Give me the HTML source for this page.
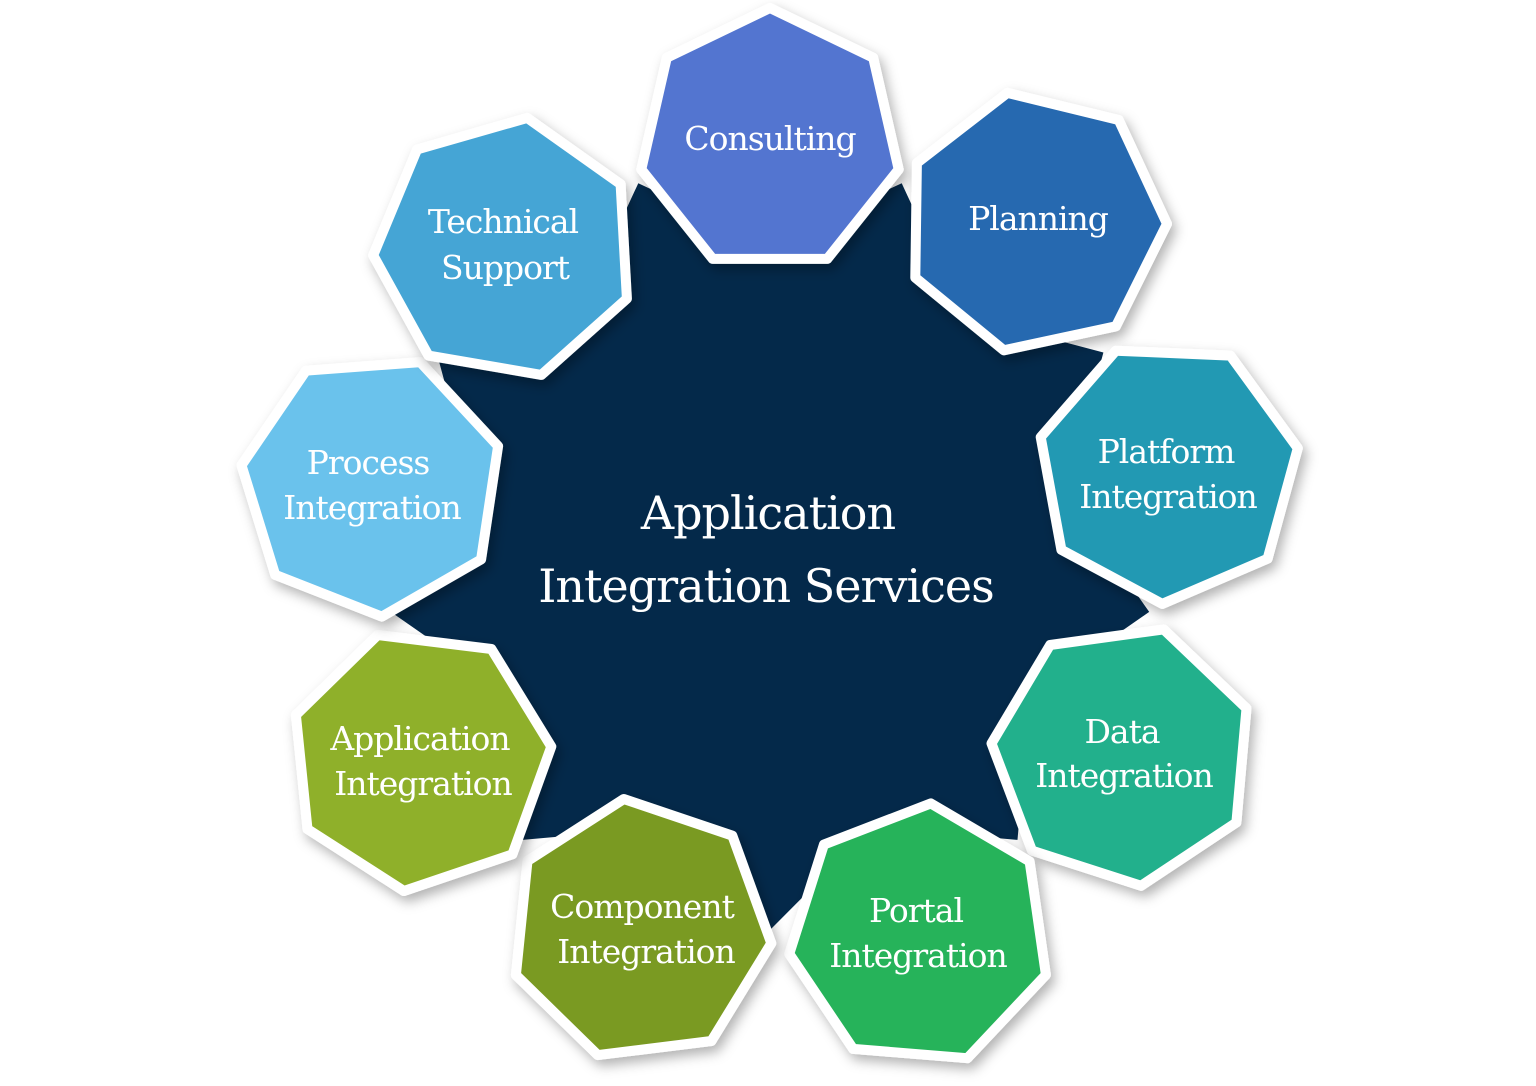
<!DOCTYPE html>
<html><head><meta charset="utf-8"><style>
html,body{margin:0;padding:0;background:#fff;}
svg{display:block;}
text{font-family:"DejaVu Serif","Liberation Serif",serif;fill:#fff;text-anchor:middle;}
.n{font-size:33px;letter-spacing:-1px;}
.c{font-size:46px;letter-spacing:-1px;}
</style></head><body>
<svg id="s" width="1536" height="1086" viewBox="0 0 1536 1086">
<defs><filter id="sh" x="-20%" y="-20%" width="140%" height="140%"><feDropShadow dx="4" dy="6" stdDeviation="6" flood-color="#000" flood-opacity="0.3"/></filter></defs>
<g id="shapes"></g>
<text class="c" x="768" y="529">Application</text>
<text class="c" x="766" y="602">Integration Services</text>
<text class="n" x="770" y="150">Consulting</text>
<text class="n" x="1038" y="230">Planning</text>
<text class="n" x="1166" y="463">Platform</text>
<text class="n" x="1168" y="508">Integration</text>
<text class="n" x="1122" y="743">Data</text>
<text class="n" x="1124" y="787">Integration</text>
<text class="n" x="916" y="922">Portal</text>
<text class="n" x="918" y="967">Integration</text>
<text class="n" x="642" y="918">Component</text>
<text class="n" x="646" y="963">Integration</text>
<text class="n" x="420" y="750">Application</text>
<text class="n" x="423" y="795">Integration</text>
<text class="n" x="368" y="474">Process</text>
<text class="n" x="372" y="519">Integration</text>
<text class="n" x="503" y="233">Technical</text>
<text class="n" x="505" y="279">Support</text>
</svg>
<script>
var g=document.getElementById('shapes'),NS='http://www.w3.org/2000/svg';
var cx=770,cy=545;
function poly(pts,fill,extra){var p=document.createElementNS(NS,'polygon');p.setAttribute('points',pts.map(function(a){return a[0].toFixed(1)+','+a[1].toFixed(1)}).join(' '));p.setAttribute('fill',fill);if(extra)for(var k in extra)p.setAttribute(k,extra[k]);g.appendChild(p);}
var st=[];for(var i=0;i<18;i++){var a=(-70+i*20)*Math.PI/180;var r=i%2==0?385:300;st.push([cx+r*Math.cos(a),cy+r*Math.sin(a)]);}
poly(st,'#04294a');
var nodes=[[770,140,'#5275d0'],[1035,222,'#2569b0'],[1168,472,'#2499b3'],[1123,755,'#24b08c'],[920,935,'#25b35a'],[640,930,'#7a9a22'],[420,760,'#8fb02a'],[372,485,'#6bc2ec'],[505,248,'#45a5d5']];
nodes.forEach(function(n){var base=Math.atan2(n[1]-cy,n[0]-cx);var pts=[];for(var j=0;j<7;j++){var a=base+j*2*Math.PI/7;pts.push([n[0]+132*Math.cos(a),n[1]+132*Math.sin(a)]);}
poly(pts,n[2],{stroke:'#fff','stroke-width':'10','stroke-linejoin':'round',filter:'url(#sh)'});});
</script>
</body></html>
